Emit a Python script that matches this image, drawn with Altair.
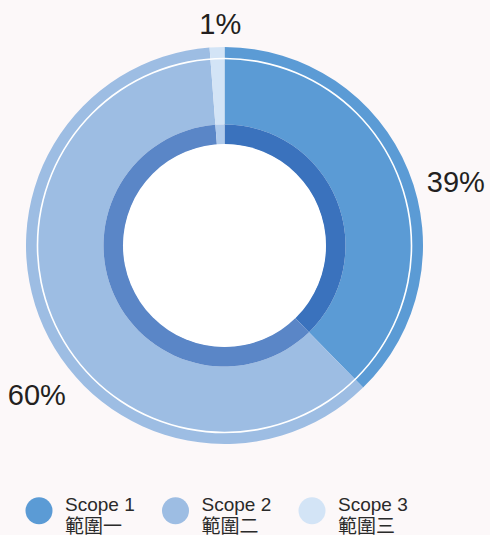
import altair as alt
import pandas as pd

# ---- data ----
scope_en = ["Scope 1", "Scope 2", "Scope 3"]
scope_zh = ["範圍一", "範圍二", "範圍三"]
shares = [37.7, 61.1, 1.2]          # angular share as drawn
pct_labels = ["39%", "60%", "1%"]   # printed labels
ring_colors = ["#5b9bd5", "#9dbde3", "#d3e4f6"]
band_colors = ["#3a72bd", "#5a86c7", "#b0cbec"]

df = pd.DataFrame({
    "scope": [f"{e}|{z}" for e, z in zip(scope_en, scope_zh)],
    "share": shares,
    "label": pct_labels,
    "band": band_colors,
    "idx": list(range(len(shares))),
})
total = sum(shares)
theta_scale = alt.Scale(domain=[0, total])

base = (
    alt.Chart(df)
    .transform_window(cum="sum(share)", sort=[alt.SortField("idx")], frame=[None, 0])
    .transform_calculate(start="datum.cum - datum.share", mid="datum.cum - datum.share / 2")
)

ring = base.mark_arc().encode(
    theta=alt.Theta("start:Q", scale=theta_scale),
    theta2="cum:Q",
    radius=alt.value(198.5),
    radius2=alt.value(121),
    color=alt.Color(
        "scope:N",
        scale=alt.Scale(domain=df["scope"].tolist(), range=ring_colors),
        legend=alt.Legend(
            title=None,
            orient="none",
            legendX=25.5,
            legendY=497,
            direction="horizontal",
            columns=3,
            symbolType="circle",
            symbolSize=729,
            symbolStrokeWidth=0,
            symbolOpacity=1,
            labelFont="Liberation Sans, Noto Sans CJK TC",
            labelFontSize=19,
            labelColor="#2a2a2a",
            labelOffset=12.5,
            labelBaseline="alphabetic",
            labelExpr="split(datum.label, '|')",
            columnPadding=26.5,
            gridAlign="all",
            padding=0,
            labelLimit=200,
        ),
    ),
)

band = base.mark_arc().encode(
    theta=alt.Theta("start:Q", scale=theta_scale),
    theta2="cum:Q",
    radius=alt.value(121),
    radius2=alt.value(101),
    fill=alt.Fill("band:N", scale=None, legend=None),
)

one = pd.DataFrame({"k": [0]})
white_line = alt.Chart(one).mark_arc(color="white", theta=0, theta2=6.2832).encode(
    radius=alt.value(187.8), radius2=alt.value(186.2)
)
hole = alt.Chart(one).mark_arc(color="white", theta=0, theta2=6.2832).encode(
    radius=alt.value(101.5), radius2=alt.value(0)
)

label_nudges = [(240, 9, 28), (240, 31, 52), (220, 4, -1)]
texts = []
for i, (r, dx, dy) in enumerate(label_nudges):
    texts.append(
        base.transform_filter(f"datum.idx == {i}")
        .mark_text(font="Liberation Sans", fontSize=29, color="#231f20", dx=dx, dy=dy)
        .encode(
            theta=alt.Theta("mid:Q", scale=theta_scale),
            radius=alt.value(r),
            text="label:N",
        )
    )

chart = (
    alt.layer(ring, band, white_line, hole, *texts)
    .properties(
        width=449,
        height=491,
        autosize=alt.AutoSizeParams(type="none"),
        padding={"left": 0, "top": 0, "right": 41, "bottom": 44},
        background="#fcf8f9",
    )
    .configure(style={"guide-label": {"lineHeight": 22}})
    .configure_view(stroke=None)
)

chart.save("out.html", embed_options={"renderer": "svg", "actions": False})
